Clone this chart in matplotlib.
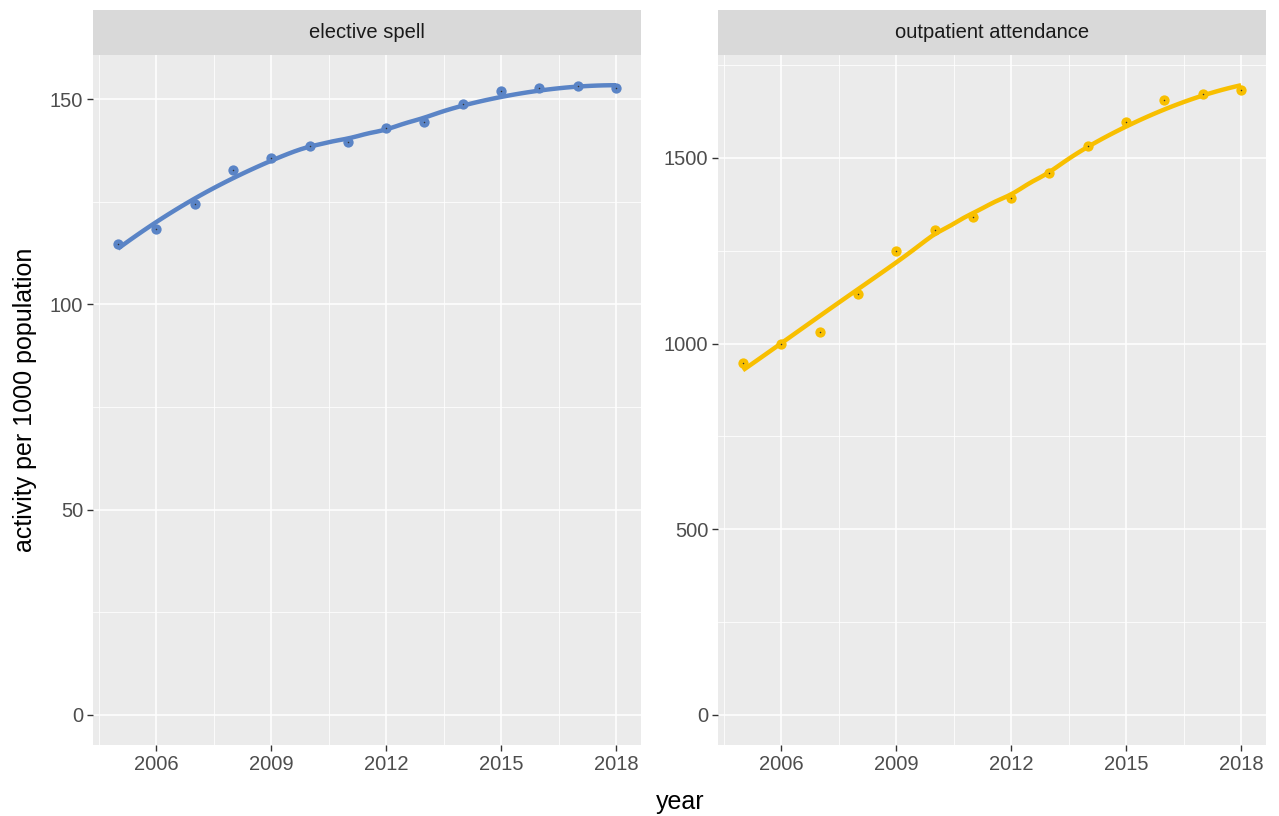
import numpy as np
import matplotlib
matplotlib.use('Agg')
import matplotlib.pyplot as plt
from matplotlib.ticker import MultipleLocator

plt.rcParams['font.family'] = ['Liberation Sans', 'DejaVu Sans']

years = np.arange(2005, 2019)
elective = [114.8, 118.3, 124.4, 132.7, 135.6, 138.6, 139.6, 142.9, 144.5, 148.7, 151.9, 152.8, 153.1, 152.8]
outpatient = [947, 998, 1031, 1133, 1248, 1307, 1341, 1392, 1459, 1531, 1598, 1655, 1671, 1682]
panels = ['elective spell', 'outpatient attendance']
colours = ['#5A84C6', '#F8BF00']


def loess(x, y, xs, span=0.75):
	# local quadratic fit with tricube weights, like geom_smooth's default
	x = np.asarray(x, float)
	y = np.asarray(y, float)
	n = len(x)
	k = int(np.ceil(span * n))
	out = []
	for x0 in xs:
		d = np.abs(x - x0)
		h = np.sort(d)[k - 1]
		w = (1 - np.clip(d / h, 0, 1) ** 3) ** 3
		X = np.vstack([np.ones(n), x - x0, (x - x0) ** 2]).T
		W = np.diag(w)
		beta = np.linalg.solve(X.T @ W @ X, X.T @ W @ y)
		out.append(beta[0])
	return np.array(out)


fig = plt.figure(figsize=(12.79, 8.16), dpi=100)
W, H = 1279, 816
boxes = [(93, 641), (718, 1266)]
ptop, pbot, stop = 55, 745, 10

for i, (name, vals, col) in enumerate(zip(panels, [elective, outpatient], colours)):
	x0, x1 = boxes[i]
	ax = fig.add_axes([x0 / W, 1 - pbot / H, (x1 - x0) / W, (pbot - ptop) / H])
	ax.set_facecolor('#EBEBEB')
	xs = np.linspace(years.min(), years.max(), 80)
	ys = loess(years, vals, xs)
	ax.plot(xs, ys, color=col, lw=3.2, zorder=3, solid_capstyle='butt')
	ax.scatter(years, vals, s=55, color=col, zorder=4, linewidths=0)
	ax.scatter(years, vals, s=1.2, color='#333333', zorder=5, linewidths=0)

	top = max(max(vals), ys.max())
	ax.set_ylim(-0.048 * top, 1.048 * top)
	ax.set_xlim(2004.35, 2018.65)
	ax.set_xticks([2006, 2009, 2012, 2015, 2018])
	ax.xaxis.set_minor_locator(MultipleLocator(1.5, offset=0.5))
	if i == 0:
		ax.yaxis.set_major_locator(MultipleLocator(50))
		ax.yaxis.set_minor_locator(MultipleLocator(25))
	else:
		ax.yaxis.set_major_locator(MultipleLocator(500))
		ax.yaxis.set_minor_locator(MultipleLocator(250))
	ax.grid(which='major', color='white', lw=1.1)
	ax.grid(which='minor', color='white', lw=0.55)
	ax.set_axisbelow(True)
	for s in ax.spines.values():
		s.set_visible(False)
	ax.tick_params(which='major', length=4, width=1, color='#333333', labelsize=14.5,
		labelcolor='#4D4D4D', pad=3)
	ax.tick_params(which='minor', length=0)

	# facet strip
	sax = fig.add_axes([x0 / W, 1 - ptop / H, (x1 - x0) / W, (ptop - stop) / H])
	sax.set_facecolor('#D9D9D9')
	sax.set_xticks([])
	sax.set_yticks([])
	for s in sax.spines.values():
		s.set_visible(False)
	sax.text(0.5, 0.5, name, ha='center', va='center', fontsize=14.5, color='#1A1A1A',
		transform=sax.transAxes)

fig.text(680 / W, 1 - 802 / H, 'year', ha='center', va='center', fontsize=18)
fig.text(25 / W, 1 - 400 / H, 'activity per 1000 population', ha='center', va='center',
	rotation=90, fontsize=18)

fig.savefig('out.png', dpi=100)
